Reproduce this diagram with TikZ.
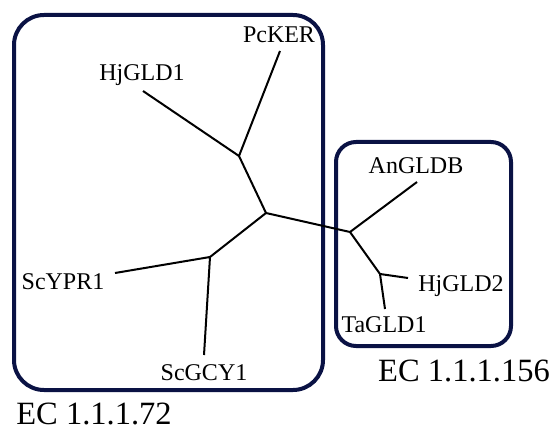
\documentclass[tikz,border=0pt]{standalone}
\usepackage{fontspec}
\setmainfont{Liberation Serif}
\begin{document}
\begin{tikzpicture}[x=1pt,y=-1pt,
  branch/.style={line width=2pt,black},
  group/.style={line width=4pt,draw=navy,rounded corners=#1},
  taxon/.style={font=\fontsize{24}{24}\selectfont,inner sep=0pt},
  eclabel/.style={font=\fontsize{32.5}{32.5}\selectfont,inner sep=0pt}]
\definecolor{navy}{RGB}{10,18,68}
\useasboundingbox (0,0) rectangle (553,430);
% enzyme class groups
\draw[group=30pt] (14,15) rectangle (323,390);
\draw[group=20pt] (336,142) rectangle (511,346);
% internal nodes
\coordinate (a) at (239,156);
\coordinate (b) at (266,213);
\coordinate (c) at (210,257);
\coordinate (d) at (350,232);
\coordinate (e) at (380,274);
% leaf tips
\coordinate (pcker) at (280,51);
\coordinate (hjgld1) at (143,91);
\coordinate (scypr1) at (115,273);
\coordinate (scgcy1) at (204,355);
\coordinate (angldb) at (417,182);
\coordinate (hjgld2) at (408,278);
\coordinate (tagld1) at (385,309);
% branches
\draw[branch] (pcker) -- (a) -- (hjgld1);
\draw[branch] (a) -- (b) -- (c);
\draw[branch] (scypr1) -- (c) -- (scgcy1);
\draw[branch] (b) -- (d) -- (angldb);
\draw[branch] (d) -- (e) -- (hjgld2);
\draw[branch] (e) -- (tagld1);
% taxon labels
\node[taxon] (lpcker) at (279,35) {PcKER};
\node[taxon] (lhjgld1) at (142,75) {HjGLD1};
\node[taxon] (lscypr1) at (63,282) {ScYPR1};
\node[taxon] (lscgcy1) at (204,373) {ScGCY1};
\node[taxon] (langldb) at (416,166) {AnGLDB};
\node[taxon] (lhjgld2) at (461,286) {HjGLD2};
\node[taxon] (ltagld1) at (384,325) {TaGLD1};
% class labels
\node[eclabel] (ec72) at (94,414) {EC 1.1.1.72};
\node[eclabel] (ec156) at (464,371) {EC 1.1.1.156};
\end{tikzpicture}
\end{document}
